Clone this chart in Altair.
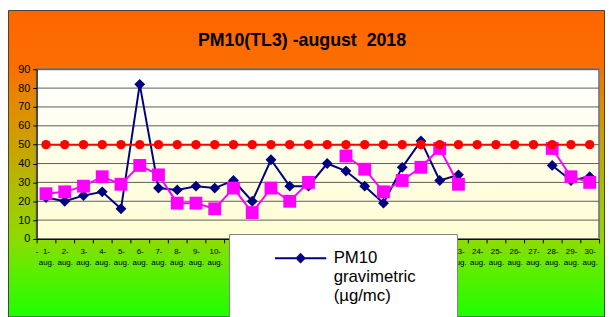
import altair as alt
import pandas as pd

# ---------------- data ----------------
days = [f"{d}-aug." for d in range(1, 31)]
pm10_gravimetric = [22, 20, 23, 25, 16, 82, 27, 26, 28, 27,
                    31, 20, 42, 28, 28, 40, 36, 28, 19, 38,
                    52, 31, 34, None, None, None, None, 39, 31, 33]
pm10_second = [24, 25, 28, 33, 29, 39, 34, 19, 19, 16,
               27, 14, 27, 20, 30, None, 44, 37, 25, 31,
               38, 48, 29, None, None, None, None, 48, 33, 30]
limit_value = [50] * 30
grid_values = [10, 20, 30, 40, 50, 60, 70, 80, 90]
y_ticks = [0, 10, 20, 30, 40, 50, 60, 70, 80, 90]
hidden_labels = [f"{d}-aug." for d in range(11, 23)]  # covered by the legend box

BLUE_NAME = "PM10 gravimetric (µg/mc)"
TITLE = "PM10(TL3) -august\u00a0 2018"

W, H = 570, 172
PAD = {"left": 29, "top": 60, "right": 6, "bottom": 77}
FONT = "Liberation Sans"

blue_df = pd.DataFrame({"day": days, "v": pm10_gravimetric, "series": BLUE_NAME})
pink_df = pd.DataFrame({"day": days, "v": pm10_second})
red_df = pd.DataFrame({"day": days, "v": limit_value})
grid_df = pd.DataFrame({"v": grid_values})
one = pd.DataFrame({"a": [0]})

yscale = alt.Scale(domain=[0, 90], nice=False, zero=True)
xscale = alt.Scale(type="band", domain=days, paddingInner=0, paddingOuter=0)

hidden_js = "[" + ",".join(f"'{d}'" for d in hidden_labels) + "]"
yaxis = alt.Axis(values=y_ticks, grid=False, zindex=1, labelFont=FONT, labelFontSize=11,
                 labelColor="#000000", tickColor="#000000", tickSize=4, domainColor="#000000",
                 labelPadding=3, title=None)
xaxis = alt.Axis(grid=False, zindex=1, labelFont=FONT, labelFontSize=8, labelColor="#000000",
                 tickColor="#000000", tickSize=4, domainColor="#000000", tickBand="extent",
                 labelAngle=0, labelPadding=5, labelLineHeight=11, labelBaseline="top",
                 labelExpr=(f"indexof({hidden_js}, datum.label) >= 0 ? '' : "
                            "[split(datum.label, '-')[0] + '-', split(datum.label, '-')[1]]"),
                 title=None)


def X():
    return alt.X("day:O", scale=xscale, sort=days, axis=xaxis)


def Y():
    return alt.Y("v:Q", scale=yscale, axis=yaxis)


outer_grad = alt.LinearGradient(
    gradient="linear", x1=0, x2=0, y1=0, y2=1,
    stops=[
        alt.GradientStop(color="#FF6600", offset=0),
        alt.GradientStop(color="#FA6E00", offset=0.18),
        alt.GradientStop(color="#E48A00", offset=0.30),
        alt.GradientStop(color="#C6A600", offset=0.46),
        alt.GradientStop(color="#A8C400", offset=0.62),
        alt.GradientStop(color="#8CDC00", offset=0.75),
        alt.GradientStop(color="#5CEE00", offset=0.85),
        alt.GradientStop(color="#1EFF00", offset=1),
    ])
plot_grad = alt.LinearGradient(
    gradient="linear", x1=0, x2=0, y1=0, y2=1,
    stops=[alt.GradientStop(color="#FFFFFF", offset=0),
           alt.GradientStop(color="#FFFDD2", offset=1)])

bg_outer = alt.Chart(one).mark_rect(fill=outer_grad, stroke="#404040", strokeWidth=1).encode(
    x=alt.value(-PAD["left"] + 0.5), x2=alt.value(W + PAD["right"] - 0.5),
    y=alt.value(-PAD["top"] + 0.5), y2=alt.value(H + PAD["bottom"] + 2))

bg_plot = alt.Chart(one).mark_rect(fill=plot_grad, stroke="#808080", strokeWidth=2).encode(
    x=alt.value(0), x2=alt.value(W), y=alt.value(0), y2=alt.value(H))

grid = alt.Chart(grid_df).mark_rule(color="#5A5A5A", strokeWidth=1).encode(
    y=Y(), x=alt.value(0), x2=alt.value(W))

# legend symbol: a line with a diamond; unit = sqrt(symbolSize)/2 = 5 px
legend = alt.Legend(
    orient="none", legendX=195, legendY=167, padding=16, fillColor="#FFFFFF",
    strokeColor="#808080", title=None, labelFont=FONT, labelFontSize=17,
    labelColor="#000000", labelLimit=400, labelOffset=25, symbolOffset=48,
    symbolType="M-5.2,0L5.2,0M0,-0.8L0.8,0L0,0.8L-0.8,0ZM27.6,0",
    symbolSize=100, symbolStrokeWidth=2, symbolStrokeColor="#000080",
    symbolFillColor="#000080", labelExpr="split(datum.label, ' ')", zindex=2)

color_blue = alt.Color("series:N", scale=alt.Scale(domain=[BLUE_NAME], range=["#000080"]),
                       legend=legend)

blue_line = alt.Chart(blue_df).mark_line(strokeWidth=2).encode(x=X(), y=Y(), color=color_blue)
blue_pts = alt.Chart(blue_df).mark_point(shape="diamond", filled=True, size=121, opacity=1).encode(
    x=X(), y=Y(), color=color_blue)

pink_line = alt.Chart(pink_df).mark_line(color="#FF00FF", strokeWidth=2).encode(x=X(), y=Y())
pink_pts = alt.Chart(pink_df).mark_point(shape="square", filled=True, size=169, opacity=1,
                                         color="#FF00FF").encode(x=X(), y=Y())

red_line = alt.Chart(red_df).mark_line(color="#FF0000", strokeWidth=2).encode(x=X(), y=Y())
red_pts = alt.Chart(red_df).mark_circle(size=90, opacity=1, color="#FF0000").encode(x=X(), y=Y())

chart = alt.layer(
    bg_outer, bg_plot, grid, blue_line, blue_pts, pink_line, pink_pts, red_line, red_pts
).properties(
    width=W, height=H, padding=PAD, autosize=alt.AutoSizeParams(type="none"),
    background="#FFFFFF",
    title=alt.TitleParams(TITLE, font=FONT, fontSize=18, fontWeight="bold", color="#000000",
                          anchor="middle", frame="group", dx=-16, dy=54, offset=0,
                          baseline="alphabetic", zindex=1),
).configure_view(stroke=None)

chart.save("out.html", embed_options={"renderer": "svg", "actions": False})
